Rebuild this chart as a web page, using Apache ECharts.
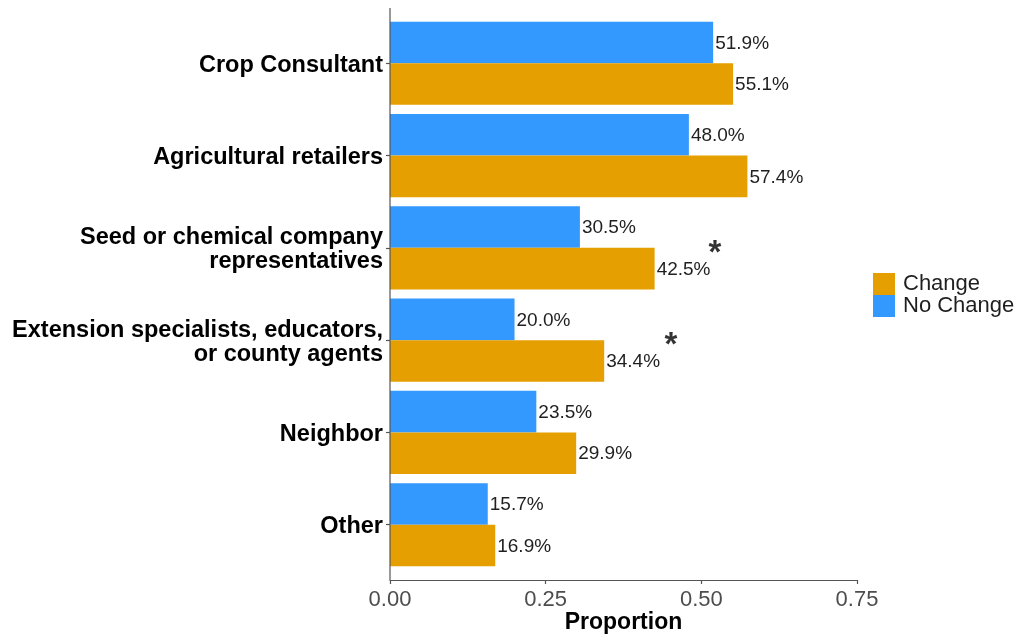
<!DOCTYPE html>
<html>
<head>
<meta charset="utf-8">
<script src="https://cdn.jsdelivr.net/npm/echarts@6/dist/echarts.min.js"></script>
<style>
  html, body { margin: 0; padding: 0; background: #ffffff; }
  #chart { width: 1025px; height: 638px; }
</style>
</head>
<body>
<div id="chart"></div>
<script>
// Information sources, listed top to bottom
const categories = [
  'Crop Consultant',
  'Agricultural retailers',
  'Seed or chemical company\nrepresentatives',
  'Extension specialists, educators,\nor county agents',
  'Neighbor',
  'Other'
];
// Proportion of respondents in each group
const noChangeValues = [0.519, 0.480, 0.305, 0.200, 0.235, 0.157];
const changeValues   = [0.551, 0.574, 0.425, 0.344, 0.299, 0.169];
// Significance markers (x position of the asterisk, null where none)
const asteriskAt = [null, null, 0.522, 0.451, null, null];
// X-axis ticks
const xTicks = [0, 0.25, 0.50, 0.75];

const FONT = '"Liberation Sans", Arial, sans-serif';
const ORANGE = '#E69F00';
const BLUE = '#3399FF';

// Plot geometry: the axis frame extends 0.6 category units past the outer category centres
const frameTop = 8, frameBottom = 580, frameLeft = 390, frameRight = 857;
const band = (frameBottom - frameTop) / (categories.length + 0.2);
const pad = 0.1 * band;

const chart = echarts.init(document.getElementById('chart'), null, { renderer: 'canvas' });

const pctLabel = {
  show: true,
  position: 'right',
  distance: 2,
  offset: [0, 1],
  fontFamily: FONT,
  fontSize: 19,
  color: '#1f1f1f',
  formatter: p => (p.value * 100).toFixed(1) + '%'
};

chart.setOption({
  animation: false,
  backgroundColor: '#ffffff',
  grid: {
    left: frameLeft,
    right: 1025 - frameRight,
    top: frameTop + pad,
    bottom: 638 - (frameBottom - pad),
    containLabel: false,
    outerBoundsMode: 'none'
  },
  legend: {
    data: ['Change', 'No Change'],
    orient: 'vertical',
    left: 873,
    top: 273,
    padding: 0,
    itemWidth: 22,
    itemHeight: 22,
    itemGap: 0,
    icon: 'rect',
    textStyle: { fontFamily: FONT, fontSize: 22, color: '#1f1f1f', padding: [0, 0, 0, 3] }
  },
  xAxis: {
    type: 'value',
    min: xTicks[0],
    max: xTicks[xTicks.length - 1],
    interval: xTicks[1] - xTicks[0],
    offset: pad,
    name: 'Proportion',
    nameLocation: 'middle',
    nameGap: 31,
    nameMoveOverlap: false,
    nameTextStyle: { fontFamily: FONT, fontSize: 23, fontWeight: 'bold', color: '#000000' },
    axisLine: { show: true, lineStyle: { color: '#555555', width: 1.2 } },
    axisTick: { show: true, length: 4, lineStyle: { color: '#555555', width: 1.2 } },
    axisLabel: {
      margin: 9,
      fontFamily: FONT, fontSize: 22, color: '#4D4D4D',
      formatter: v => v.toFixed(2)
    },
    splitLine: { show: false }
  },
  yAxis: {
    type: 'category',
    inverse: true,
    data: categories,
    axisLine: { show: false },
    axisTick: { show: true, alignWithLabel: true, length: 4, lineStyle: { color: '#555555', width: 1.2 } },
    axisLabel: {
      margin: 7,
      formatter: v => '{t|' + v + '}',
      rich: {
        t: {
          fontFamily: FONT, fontSize: 23.5, fontWeight: 'bold', color: '#000000',
          lineHeight: 24, align: 'right', padding: [4, 0, 0, 0]
        }
      },
      align: 'right'
    },
    splitLine: { show: false }
  },
  series: [
    {
      name: 'No Change',
      type: 'bar',
      data: noChangeValues,
      itemStyle: { color: BLUE },
      barGap: '0%',
      barCategoryGap: '10%',
      label: pctLabel
    },
    {
      name: 'Change',
      type: 'bar',
      data: changeValues,
      itemStyle: { color: ORANGE },
      barGap: '0%',
      barCategoryGap: '10%',
      label: pctLabel
    },
    {
      name: 'significance',
      type: 'scatter',
      symbolSize: 0,
      data: asteriskAt.map((x, i) => x === null ? null : [x, i]),
      label: {
        show: true,
        position: 'inside',
        offset: [0, 6],
        formatter: '*',
        fontFamily: FONT, fontSize: 33, fontWeight: 'bold', color: '#000000'
      },
      silent: true,
      z: 5
    }
  ],
  graphic: [
    {
      type: 'line',
      shape: { x1: frameLeft, y1: frameTop, x2: frameLeft, y2: frameBottom },
      style: { stroke: '#555555', lineWidth: 1.2 },
      z: 10
    }
  ]
});
</script>
</body>
</html>
